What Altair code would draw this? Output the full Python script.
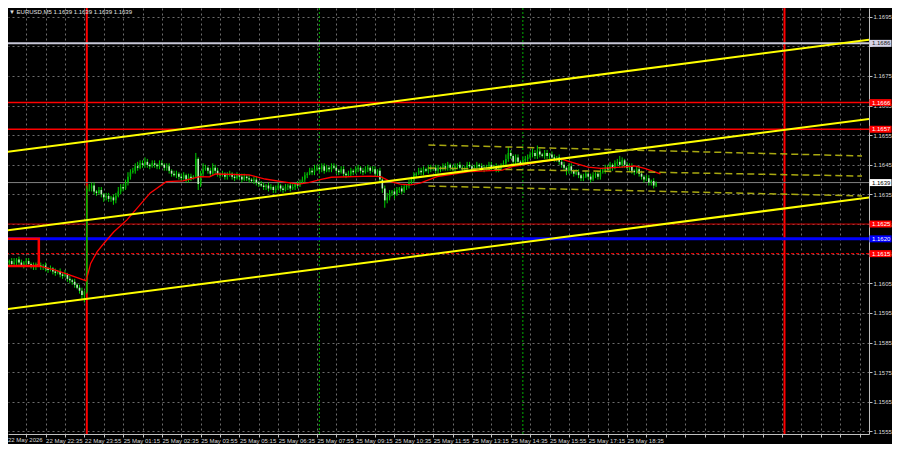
import altair as alt
import pandas as pd

# ---------------- data (prices in pips above 1.1600) ----------------
BASE = 1.1600
PIP = 0.0001

first_bar = -16          # bar index of first M5 candle (22 May 21:15); index 0 = 22 May 22:35
first_open = 12.0
closes = [
    12, 12.5, 11.5, 12, 13, 12, 11, 12, 12.5, 11.5, 11, 10.5, 11.5, 11, 10.5, 11,
    10, 9.5, 10, 9, 8.5, 9, 8, 7.5, 8, 6.5, 6, 5.5, 4.5, 3.5, 2.5, 1, 2,
    37, 37, 38, 36, 35.5, 36.5, 35, 34, 34.5, 33.5, 34, 33, 34.5, 36, 37.5, 37, 39, 41, 42.5, 43, 44.5, 44, 45.5, 45, 46, 45, 44.5, 45.5, 45, 44.5, 45.5, 45, 44, 44.5,
    43, 42, 41.5, 42, 41, 40.5, 41.5, 40, 41, 40.5, 41,
    47, 38.5, 42,
    43.5, 44, 43, 42, 44, 43,
    42, 41.5, 42, 41, 41.5, 42, 41, 40.5, 41.5, 41, 40, 41, 40.5, 40, 39.5, 40, 39,
    38.5, 38, 37.5, 38, 37, 37.5, 36.5, 37, 38, 37, 36.5, 37.5, 38, 37, 37.5, 38.5, 38, 39,
    40, 41.5, 42, 43, 42.5, 43.5, 44, 43.5, 44.5, 43, 44, 43.5, 44.5, 44,
    43, 42.5, 43.5, 42, 41.5, 42, 43, 42.5, 43.5, 44, 43, 42.5, 43.5, 44, 43,
    43.5, 42, 43, 40, 37, 33, 34,
    35.5, 36, 35, 36.5, 37, 36, 37.5, 38, 39,
    40, 41.5, 42, 43, 42.5, 43.5, 43, 44, 43.5, 44, 43,
    44, 43.5, 44.5, 44, 45, 44, 43.5, 44.5, 45, 44, 43.5, 44, 45, 44.5, 43.5, 44, 45, 44.5, 44, 43.5, 44.5, 45, 44, 44.5, 43.5, 44, 45,
    45.5, 47, 49, 48, 46, 47.5, 46, 45.5, 46.5, 47,
    47.5, 48.5, 49, 48, 49.5, 48.5, 48, 49, 48, 48.5, 47.5, 47, 47.5, 46,
    45, 44, 43, 44.5, 43, 42, 42.5,
    41.5, 40.5, 41, 42, 41, 40, 41.5, 42, 41, 42.5, 43,
    44, 43.5, 45, 44, 45.5, 46, 45, 46.5, 45, 44, 44.5,
    43, 42.5, 43.5, 42,
    41, 40, 40.5, 39, 39.5, 38, 38.9,
]
wick_up = [
    1, 0.5, 1, 1.5, 0.5, 1, 1, 0.5, 1, 1, 0.5, 1, 0.5, 1, 1, 0.5,
    1, 0.5, 1, 0.5, 1, 0.5, 1, 0.5, 1.5, 0.5, 1, 0.5, 1, 0.5, 1, 1, 0.5,
    1, 1.5, 1, 1, 0.5, 1, 1, 0.5, 1, 1, 0.5, 1, 1, 1.5, 1, 1, 1, 1.5, 1, 1, 1, 1.5, 1, 1, 1.5, 1, 0.5, 1, 1, 0.5, 1, 1, 0.5, 1,
    1, 0.5, 1, 1, 0.5, 1, 1, 0.5, 1, 1, 0.5,
    2, 0.5, 1,
    2, 1, 0.5, 1, 1.5, 1,
    1, 0.5, 1, 0.5, 1, 1, 0.5, 1, 1, 0.5, 1, 1, 0.5, 1, 0.5, 1, 1,
    0.5, 1, 1, 0.5, 1, 1, 0.5, 1, 1, 0.5, 1, 1, 0.5, 1, 1, 0.5, 1, 1,
    1, 1, 0.5, 1, 1, 1.5, 1, 0.5, 1, 1, 1, 0.5, 1, 1,
    1, 0.5, 1, 1, 0.5, 1, 1, 0.5, 1, 1, 0.5, 1, 1, 1, 0.5,
    1, 1, 0.5, 1, 1, 1, 1.5,
    1, 0.5, 1, 1, 0.5, 1, 1, 0.5, 1,
    1, 1, 0.5, 1, 1, 1, 0.5, 1, 1, 0.5, 1,
    1, 0.5, 1, 1, 1, 0.5, 1, 1, 0.5, 1, 1, 0.5, 1, 1, 0.5, 1, 1, 0.5, 1, 1, 0.5, 1, 1, 0.5, 1, 1, 0.5,
    1, 1.5, 2, 1, 0.5, 1, 1, 0.5, 1, 1,
    1, 1, 1.5, 1, 2, 1, 0.5, 1, 1, 0.5, 1, 1, 0.5, 1,
    1, 1, 0.5, 1, 1, 0.5, 1,
    1, 0.5, 1, 1, 0.5, 1, 1, 0.5, 1, 1, 1,
    1, 1, 1, 0.5, 1, 1, 2, 1, 0.5, 1, 1,
    1, 0.5, 1, 1,
    1, 0.5, 1, 1, 0.5, 1, 0.5,
]
wick_dn = [
    1, 1, 0.5, 1, 1, 1.5, 0.5, 1, 1, 0.5, 1, 1, 1, 0.5, 1, 1,
    1, 1, 0.5, 1, 1, 0.5, 1, 1, 0.5, 1, 1, 1, 1, 0.5, 1, 1.5, 2.5,
    0.5, 1, 1, 1, 1, 0.5, 1, 1.5, 1, 1, 1, 1.5, 1, 0.5, 1, 1, 0.5, 1, 1, 0.5, 1, 1, 0.5, 1, 1, 1, 1, 0.5, 1, 1, 1, 0.5, 1, 1,
    1, 1, 0.5, 1, 1, 1, 0.5, 1, 1, 1, 0.5,
    0.5, 2, 1,
    1, 0.5, 1, 1, 0.5, 1,
    1, 1, 0.5, 1, 1, 0.5, 1, 1, 0.5, 1, 1, 0.5, 1, 1, 0.5, 1, 1,
    1, 0.5, 1, 1, 1, 0.5, 1, 1, 0.5, 1, 1, 0.5, 1, 1, 0.5, 1, 1, 0.5,
    0.5, 1, 1, 0.5, 1, 1, 0.5, 1, 1, 1, 0.5, 1, 1, 0.5,
    1, 1, 0.5, 1, 1, 0.5, 1, 1, 0.5, 1, 1, 1, 0.5, 1, 1,
    0.5, 1, 1, 1, 1.5, 2.5, 1,
    1, 1, 1.5, 0.5, 1, 1, 0.5, 1, 1,
    0.5, 1, 1, 0.5, 1, 1, 0.5, 1, 1, 0.5, 1,
    1, 1, 0.5, 1, 1, 1, 0.5, 1, 1, 0.5, 1, 1, 1, 0.5, 1, 1, 0.5, 1, 1, 1, 0.5, 1, 1, 0.5, 1, 1, 1,
    0.5, 1, 1, 1, 1.5, 1, 1, 1, 0.5, 1,
    1, 0.5, 1, 1, 1, 1, 0.5, 1, 1, 1, 0.5, 1, 1, 1,
    1, 1, 1.5, 1, 1, 1, 0.5,
    1, 1, 1, 0.5, 1, 1, 0.5, 1, 1, 1, 0.5,
    1, 0.5, 1, 1, 0.5, 1, 1, 1, 1, 0.5, 1,
    1, 1, 0.5, 1,
    1, 1, 0.5, 1, 1, 1, 0.5,
]

time_labels = ["22 May 22:35", "22 May 23:55", "25 May 01:15", "25 May 02:35", "25 May 03:55",
               "25 May 05:15", "25 May 06:35", "25 May 07:55", "25 May 09:15", "25 May 10:35",
               "25 May 11:55", "25 May 13:15", "25 May 14:35", "25 May 15:55", "25 May 17:15",
               "25 May 18:35"]
first_date_label = "22 May 2026"
price_ticks = [1.1555, 1.1565, 1.1575, 1.1585, 1.1595, 1.1605, 1.1615, 1.1625,
               1.1635, 1.1645, 1.1655, 1.1665, 1.1675, 1.1685, 1.1695]
title_text = "\u25bc EURUSD,M5  1.1639 1.1639 1.1639 1.1639"

ma_idx = [-16.7, -2.4, 3.7, 9.8, 15.9, 16.7, 18.6, 21.3, 24.1, 28.2, 33.6, 43.2, 49.8, 56.7, 63.6,
          67.7, 70.2, 84, 90.6, 97.5, 104.5, 108.5, 113.8, 117.9, 134.2, 138.3, 142.4, 146.5,
          150.6, 154.6, 161.6, 175, 188.5, 192.6, 204.8, 213, 218.7, 224, 229.3, 237.5, 243.2,
          247.3, 253.8]
ma_pips = [10.8, 10.8, 9.5, 7.8, 6.1, 5.8, 11.7, 15.7, 18.5, 22.4, 26.4, 35.5, 39.3, 39.6, 41,
           40.9, 41.9, 41.6, 40.2, 39.3, 38.5, 39, 40.1, 40.8, 41.2, 41, 39.3, 38.5, 38.2, 38.8,
           41, 42.7, 43.2, 44.4, 46.1, 46.9, 45.5, 44.2, 43.8, 44.2, 44.6, 43.8, 41.9]

kijun_idx = [-16.7, -2.8, -2.8, -16.7]
kijun_pips = [20, 20, 10.8, 10.8]

trend_start_idx = -16.7
trend_end_idx = 340.3
trend_start_pips = [49.3, 22.8, -3.85]
trend_end_pips = [87.3, 60.5, 34.0]

dash_start_idx = 158
dash_end_idx = 337
dash_start_pips = [51.7, 43.9, 37.8]
dash_end_pips = [48.0, 41.2, 34.5]

level_prices = [1.1686, 1.1666, 1.1657, 1.1625, 1.1620, 1.1615]
bid_price = 1.1639
red_vlines = [17, 305]
green_vlines = [113, 197]

# ---------------- styles ----------------
W, H = 861, 426
FONT = "Liberation Sans"
FS = 6
level_style = [  # colour, width, dash
    ("#c8c8d8", 2, [1, 0]), ("#ff0000", 1.5, [1, 0]), ("#ff0000", 1.5, [1, 0]),
    ("#d00000", 1, [1, 0]), ("#0000ff", 3, [1, 0]), ("#ff0000", 1, [3, 2]),
]
box_fill = {1.1686: "#d4d2e6", 1.1666: "#ff0000", 1.1657: "#ff0000", 1.1639: "#ffffff",
            1.1625: "#ff0000", 1.1620: "#0000ff", 1.1615: "#ff0000"}
box_text = {1.1686: "#202020", 1.1666: "#ffffff", 1.1657: "#ffffff", 1.1639: "#000000",
            1.1625: "#ffffff", 1.1620: "#ffffff", 1.1615: "#ffffff"}

# ---------------- frames ----------------
n = min(len(closes), len(wick_up), len(wick_dn))
rows = []
prev = first_open
for k in range(n):
    o, c = prev, closes[k]
    rows.append(dict(i=first_bar + k, o=BASE + o * PIP, c=BASE + c * PIP,
                     h=BASE + (max(o, c) + wick_up[k]) * PIP,
                     l=BASE + (min(o, c) - wick_dn[k]) * PIP,
                     d="up" if c >= o else "dn"))
    prev = c
bars = pd.DataFrame(rows)

ma = pd.DataFrame({"i": ma_idx, "p": [BASE + v * PIP for v in ma_pips]})
kij = pd.DataFrame({"i": kijun_idx, "p": [BASE + v * PIP for v in kijun_pips],
                    "k": list(range(len(kijun_idx)))})
trend = pd.DataFrame(
    [{"i": trend_start_idx, "p": BASE + s * PIP, "g": g} for g, s in enumerate(trend_start_pips)] +
    [{"i": trend_end_idx, "p": BASE + e * PIP, "g": g} for g, e in enumerate(trend_end_pips)])
dash = pd.DataFrame(
    [{"i": dash_start_idx, "p": BASE + s * PIP, "g": g} for g, s in enumerate(dash_start_pips)] +
    [{"i": dash_end_idx, "p": BASE + e * PIP, "g": g} for g, e in enumerate(dash_end_pips)])
box_prices = level_prices[:3] + [bid_price] + level_prices[3:]
boxes = pd.DataFrame({"p": box_prices, "label": [f"{p:.4f}" for p in box_prices],
                      "fill": [box_fill[p] for p in box_prices],
                      "tc": [box_text[p] for p in box_prices]})

# ---------------- scales / axes ----------------
xs = alt.Scale(domain=[-13.46, 337.82], nice=False, zero=False)
ys = alt.Scale(domain=[1.155411, 1.169794], nice=False, zero=False)
labels_js = "[" + ",".join("'" + s + "'" for s in time_labels) + "]"
xaxis = alt.Axis(
    values=list(range(-8, 338, 8)),
    labelExpr=f"(datum.value % 16 == 0 && datum.value >= 0 && datum.value <= {16*(len(time_labels)-1)}) ? {labels_js}[datum.value / 16] : ''",
    orient="bottom", grid=True, gridColor="#6c6c6c", gridDash=[2, 3], gridWidth=1,
    domainColor="#c0c0c0", domainWidth=1, tickColor="#c0c0c0", tickSize=3, tickWidth=1,
    labelAlign="left", labelBaseline="top", labelPadding=0, labelFont=FONT, labelFontSize=FS,
    labelColor="#d8d8d8", labelOverlap=False, labelFlush=False, labelBound=False)
# the 1.1685 scale label sits under the 1.1686 price box, so it is not shown
yaxis = alt.Axis(
    values=price_ticks, labelExpr="abs(datum.value - 1.1685) < 0.00001 ? '' : format(datum.value, '.4f')",
    orient="right", grid=True, gridColor="#6c6c6c",
    gridDash=[2, 3], gridWidth=1, domainColor="#c0c0c0", domainWidth=1, tickColor="#c0c0c0",
    tickSize=3, tickWidth=1, labelAlign="left", labelBaseline="middle", labelPadding=1,
    labelFont=FONT, labelFontSize=FS, labelColor="#d8d8d8", labelOverlap=False,
    labelFlush=False, labelBound=False)


def X(f):
    return alt.X(f, type="quantitative", scale=xs, axis=xaxis, title=None)


def Y(f):
    return alt.Y(f, type="quantitative", scale=ys, axis=yaxis, title=None)


layers = []
# vertical session / day lines
for v in green_vlines:
    layers.append(alt.Chart(pd.DataFrame({"i": [v]})).mark_rule(
        color="#00b000", strokeWidth=1, strokeDash=[2, 2]).encode(x=X("i")))
for v in red_vlines:
    layers.append(alt.Chart(pd.DataFrame({"i": [v]})).mark_rule(
        color="#ff0000", strokeWidth=2).encode(x=X("i")))
# horizontal levels
for p, (col, w, d) in zip(level_prices, level_style):
    layers.append(alt.Chart(pd.DataFrame({"p": [p]})).mark_rule(
        color=col, strokeWidth=w, strokeDash=d).encode(y=Y("p")))
layers.append(alt.Chart(pd.DataFrame({"p": [bid_price]})).mark_rule(
    color="#808080", strokeWidth=1).encode(y=Y("p")))
# candles
layers.append(alt.Chart(bars).mark_rule(color="#00d000", strokeWidth=1, clip=True).encode(
    x=X("i"), y=Y("l"), y2=alt.Y2("h")))
layers.append(alt.Chart(bars).mark_bar(width=1.6, clip=True).encode(
    x=X("i"), y=Y("o"), y2=alt.Y2("c"),
    color=alt.Color("d:N", scale=alt.Scale(domain=["up", "dn"], range=["#00b400", "#b8f0b8"]),
                    legend=None)))
# indicators
layers.append(alt.Chart(ma).mark_line(color="#ff0000", strokeWidth=1.3, clip=True).encode(
    x=X("i"), y=Y("p")))
layers.append(alt.Chart(kij).mark_line(color="#ff0000", strokeWidth=2.5, clip=True).encode(
    x=X("i"), y=Y("p"), order=alt.Order("k:Q")))
# channel lines
layers.append(alt.Chart(trend).mark_line(color="#ffff00", strokeWidth=2, clip=True).encode(
    x=X("i"), y=Y("p"), detail="g:N"))
layers.append(alt.Chart(dash).mark_line(color="#a8a810", strokeWidth=1.5, strokeDash=[7, 4],
                                        clip=True).encode(x=X("i"), y=Y("p"), detail="g:N"))
# price boxes on the right scale
layers.append(alt.Chart(boxes).mark_tick(orient="horizontal", size=22, thickness=7,
                                         opacity=1).encode(
    x=alt.value(W + 11.5), y=Y("p"), color=alt.Color("fill:N", scale=None)))
layers.append(alt.Chart(boxes).mark_text(align="left", baseline="middle", font=FONT,
                                         fontSize=FS).encode(
    x=alt.value(W + 3), y=Y("p"), text="label:N", color=alt.Color("tc:N", scale=None)))
# title and first date label
one = pd.DataFrame({"t": [title_text], "d": [first_date_label]})
layers.append(alt.Chart(one).mark_text(align="left", baseline="top", font=FONT, fontSize=FS,
                                       color="#e0e0e0").encode(
    x=alt.value(1), y=alt.value(1), text="t:N"))
layers.append(alt.Chart(one).mark_text(align="left", baseline="top", font=FONT, fontSize=FS,
                                       color="#d8d8d8").encode(
    x=alt.value(0), y=alt.value(H + 3), text="d:N"))

chart = alt.layer(*layers).properties(
    width=W, height=H, background="#000000",
    padding={"left": 0, "top": 0, "right": 23, "bottom": 10},
    autosize=alt.AutoSizeParams(type="none"),
).configure_view(strokeWidth=0)

chart.save("out.html", embed_options={"renderer": "svg", "actions": False})
